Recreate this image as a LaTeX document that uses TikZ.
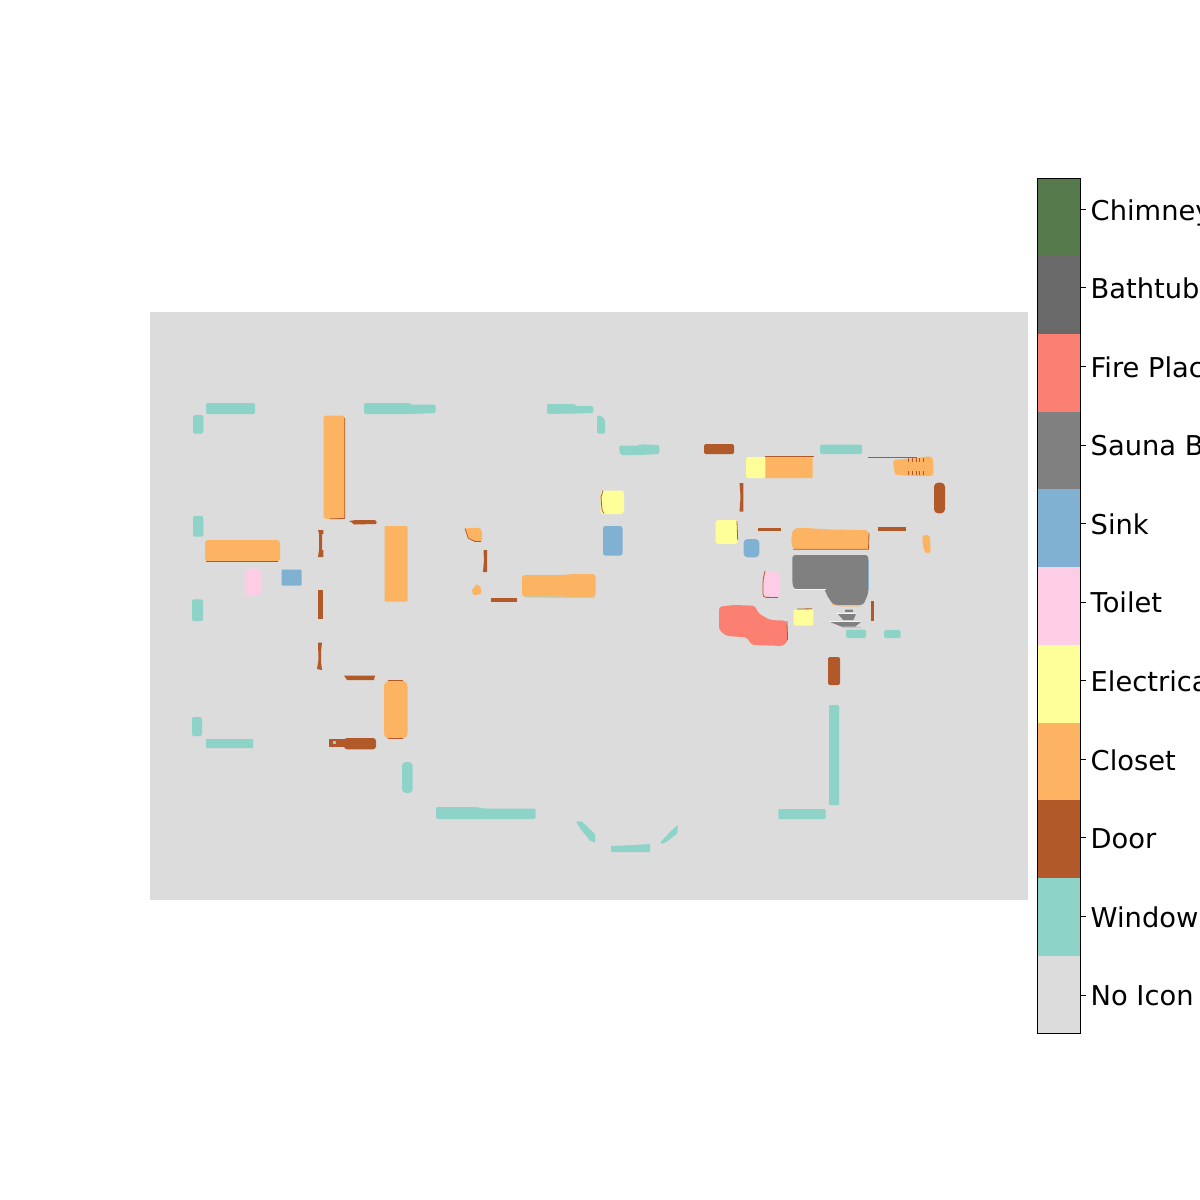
\documentclass[tikz,border=0pt]{standalone}
\usepackage{fontspec}
\setmainfont{DejaVu Sans}
\definecolor{cnone}{HTML}{DCDCDC}
\definecolor{cwin}{HTML}{8DD3C7}
\definecolor{cdoor}{HTML}{B15928}
\definecolor{ccloset}{HTML}{FDB462}
\definecolor{celec}{HTML}{FFFF99}
\definecolor{ctoilet}{HTML}{FCCDE5}
\definecolor{csink}{HTML}{80B1D3}
\definecolor{csauna}{HTML}{808080}
\definecolor{cfire}{HTML}{FB8072}
\definecolor{cbath}{HTML}{696969}
\definecolor{cchim}{HTML}{577A4D}
\tikzset{
  win/.style={fill=cwin,rounded corners=2pt},
  door/.style={fill=cdoor},
  closet/.style={fill=ccloset,rounded corners=3pt},
  elec/.style={fill=celec,rounded corners=3pt},
  toilet/.style={fill=ctoilet,rounded corners=5pt},
  sink/.style={fill=csink,rounded corners=2.5pt},
  sauna/.style={fill=csauna,rounded corners=3pt},
  fireplace/.style={fill=cfire,rounded corners=3pt},
  edgedoor/.style={draw=cdoor,line width=0.8pt},
  edgewin/.style={draw=cwin,line width=0.8pt},
  edgelight/.style={draw=celec,line width=0.8pt},
  edgecloset/.style={draw=ccloset,line width=0.8pt},
  ticklabel/.style={anchor=base west,inner sep=0pt,font=\fontsize{27.3}{30}\selectfont}
}
\begin{document}
\begin{tikzpicture}[x=1pt,y=-1pt]
\useasboundingbox (0,0) rectangle (1200,1200);
\clip (0,0) rectangle (1200,1200);
\fill[white] (0,0) rectangle (1200,1200);
\fill[cnone] (150,312) rectangle (1028,900);
% windows
\fill[win] (206,403) rectangle (255,414);
\fill[win] (193,415) rectangle (203.3,433.7);
\fill[win] (364,403) -- (410,403) -- (410,404.5) -- (435.7,404.5) -- (435.7,413) -- (410,414) -- (364,414) -- cycle;
\fill[win] (547,404) -- (575,404) -- (575,406) -- (593.3,406) -- (593.3,413) -- (575,413.5) -- (547,414) -- cycle;
\fill[win] (597,415.3) -- (603,416.5) -- (605,420) -- (605,433.7) -- (597,433.7) -- cycle;
\fill[win] (619,445.5) -- (640,445.5) -- (640,444.3) -- (659.3,445) -- (659.3,454) -- (640,455) -- (620,455) -- cycle;
\fill[win] (820,444.5) rectangle (862,454);
\fill[win] (193,516) rectangle (203.3,536.7);
\fill[win] (192,599.3) rectangle (203,621);
\fill[win] (192,717) rectangle (202,736);
\fill[win,rounded corners=0.5pt] (206,739) rectangle (253,748);
\fill[win,rounded corners=4pt] (402,762) rectangle (412.7,793);
\fill[win] (436,807) -- (476,807) -- (484,808.5) -- (535.7,808.5) -- (535.7,819) -- (436,819) -- cycle;
\fill[win,rounded corners=1pt] (829,705) rectangle (839,805);
\fill[win,rounded corners=1pt] (778.3,809) rectangle (825.7,819);
\fill[win,rounded corners=1pt] (576,821.3) -- (581.7,821.3) -- (595,834) -- (595,842.7) -- (590,840.7) -- (580,828.3) -- cycle;
\fill[win,rounded corners=0.5pt] (611,846) -- (635,845) -- (650,844) -- (650,852) -- (611,852) -- cycle;
\fill[win,rounded corners=1pt] (660,842.7) -- (672,830) -- (678,825) -- (677.3,833.3) -- (666.7,841.7) -- (661.7,844) -- cycle;
\fill[win] (846,629.5) rectangle (866,638);
\fill[win] (884,630) rectangle (900.7,638);
% doors
\fill[door,rounded corners=1.5pt] (704,444) rectangle (734,454);
\fill[door] (349,521) -- (356,520) -- (375,520) -- (376.7,522) -- (376,524) -- (354,524.5) -- (352,522.5) -- cycle;
\fill[door] (318,530) -- (323.3,530) -- (323.3,534) -- (322,534) -- (322,550) -- (323.3,550) -- (323.3,557) -- (318,557) -- (319,550) -- (319,534) -- cycle;
\fill[door] (318,590) rectangle (322.5,619);
\fill[door] (318,642.7) -- (322,642.7) -- (321,652) -- (321,662) -- (322,670) -- (317,669) -- (318.5,660) -- cycle;
\fill[door] (344,675.5) -- (375,675.5) -- (374,680) -- (347,680) -- cycle;
\fill[door] (329,739) rectangle (346,746.5);
\fill[cwin] (333,740.5) rectangle (336,743.5);
\fill[door,rounded corners=3pt] (344,738) rectangle (376,749.3);
\fill[door] (483.5,550) -- (487,550) -- (487,572) -- (483,572) -- (484,560) -- cycle;
\fill[door] (490.5,598.2) rectangle (516.5,602.2);
\fill[door] (739.5,483) -- (743.3,483) -- (743.3,511.7) -- (739.5,511.7) -- (740.5,497) -- cycle;
\fill[door] (757.7,528) rectangle (781,531.3);
\fill[door] (877.7,527.3) rectangle (906,531);
\fill[door,rounded corners=4pt] (934,482.7) rectangle (945,513.3);
\fill[door] (870.5,601) rectangle (874.3,621);
\fill[door,rounded corners=2pt] (828,657) rectangle (840,685);
% closets
\fill[closet] (323.5,415.5) rectangle (345,519);
\draw[edgedoor] (344.8,418) -- (344.8,518.5) -- (330,518.8);
\fill[closet] (205,540) rectangle (280,561.5);
\draw[edgedoor] (206,561.4) -- (278,561.4);
\fill[closet,rounded corners=1pt] (384.5,526) rectangle (407.5,601.5);
\fill[closet,rounded corners=6pt] (384,680.5) rectangle (407.5,739);
\draw[edgedoor] (388,680.5) -- (403,680.5);
\draw[edgedoor] (388,738.7) -- (403,738.7);
\fill[closet,rounded corners=1.5pt] (465,528.3) -- (480,527.7) -- (482,531.7) -- (482,541.7) -- (475,541.7) -- (468.3,538.3) -- cycle;
\draw[edgedoor] (465,528.5) -- (468.3,538.3) -- (475,541.5) -- (481,541.5);
\fill[closet,rounded corners=1pt] (472,590) -- (476.7,584) -- (481,587.3) -- (481,594) -- (473.3,595.3) -- cycle;
\fill[closet] (522,575) -- (560,575) -- (575,574) -- (595.7,574) -- (595.7,597) -- (560,596.7) -- (522,596.7) -- cycle;
\draw[edgewin] (525,597) -- (595,597.3);
\fill[closet,rounded corners=0.5pt] (765,457) rectangle (812.7,478);
\draw[edgedoor] (765,456.8) -- (813.5,456.8);
\fill[closet] (892.7,460) -- (917,458) -- (931,456) -- (933.3,460) -- (933.3,476) -- (917,476) -- (895,475) -- cycle;
\foreach \px in {908,912,916,919,923}{\draw[edgedoor] (\px,458) -- (\px,462);\draw[edgedoor] (\px,471) -- (\px,475);}
\fill[closet] (793,529) -- (800,527.7) -- (830,529.5) -- (860,530) -- (868,530) -- (869,535) -- (868.5,549.3) -- (793,549.3) -- (791,540) -- cycle;
\draw[edgedoor] (793,549.3) -- (868.5,549.3) -- (869,533);
\fill[closet] (922,535.3) -- (930,535) -- (930.7,553.3) -- (925,553.3) -- (923,545) -- cycle;
% electrical
\fill[elec] (600.5,490.5) rectangle (624,514);
\draw[edgedoor] (603,490.5) -- (601,497) -- (602,510) -- (604,513.5);
\fill[elec,rounded corners=1.5pt] (746,457) rectangle (765.3,478);
\fill[elec] (715.5,520) rectangle (738,544);
\draw[edgedoor] (737,521) -- (737.7,540);
\fill[elec,rounded corners=1.5pt] (793.5,609.5) rectangle (813.3,625.7);
\draw[edgedoor] (797,609) -- (812,608.8);
% toilets
\fill[toilet] (244.5,568.5) rectangle (261.5,595.7);
\fill[toilet] (762.7,571) rectangle (780,597.7);
\draw[edgedoor,rounded corners=3pt] (765,571) -- (763,580) -- (763,597.3) -- (778,597.5);
% sinks
\fill[sink,rounded corners=1pt] (281.5,569.5) rectangle (301.5,585.7);
\fill[sink] (603,526) rectangle (622.5,555.5);
\fill[sink,rounded corners=4pt] (743.5,539) rectangle (759.3,557.3);
% sauna
\fill[sauna] (792.3,555) -- (868.3,555) -- (868.3,593.3) -- (863.3,605) -- (833.3,605) -- (825.7,593.3) -- (825.7,589.3) -- (794,589.3) -- (792.3,583) -- cycle;
\draw[edgelight] (794,589.6) -- (825.5,589.6);
\draw[draw=csink,line width=0.7pt] (868.6,560) -- (868.6,590);
\draw[edgecloset] (832,604.5) -- (842,606) -- (860,606);
\fill[csauna] (845,609.3) rectangle (853.3,611.7);
\draw[edgecloset] (845,609) -- (853.3,609);
\fill[csauna] (838,614) -- (856,614) -- (853.3,620) -- (843.3,620) -- cycle;
\fill[csauna] (830,622) -- (861,622) -- (855,626.7) -- (841.7,626.7) -- cycle;
\draw[edgelight] (836,613.2) -- (856,613.2);
\draw[edgelight] (829.3,621.4) -- (861,621.4);
\draw[edgecloset] (842,627) -- (861,627);
% fire place
\fill[fireplace] (719,606.7) -- (733.3,605) -- (755,605.7) -- (758.3,613.3) -- (770,620) -- (786.7,620.7) -- (788.3,640) -- (783.3,646) -- (751.7,645) -- (746.7,637.3) -- (726.7,636) -- (719,630) -- cycle;
\draw[edgedoor] (786.9,621) -- (787.6,640);
% thin line
\draw[draw=cdoor,line width=0.7pt] (868,457.3) -- (917,457.3);
% colour bar
\foreach \i/\c in {0/cchim,1/cbath,2/cfire,3/csauna,4/csink,5/ctoilet,6/celec,7/ccloset,8/cdoor,9/cwin,10/cnone}{
  \fill[\c] (1037.5,{178.5+77.727*\i}) rectangle (1080.5,{178.5+77.727*(\i+1)});
  \draw[black,line width=0.8pt] (1080.5,{209.3+78.57*\i}) -- (1085.5,{209.3+78.57*\i});
}
\draw[black,line width=1.1pt] (1037.5,178.5) rectangle (1080.5,1033.5);
\node[ticklabel] (l0) at (1090.5,{220+78.57*0}) {Chimney};
\node[ticklabel] (l1) at (1090.5,{220+78.57*1}) {Bathtub};
\node[ticklabel] (l2) at (1090.5,{220+78.57*2}) {Fire Place};
\node[ticklabel] (l3) at (1090.5,{220+78.57*3}) {Sauna Bench};
\node[ticklabel] (l4) at (1090.5,{220+78.57*4}) {Sink};
\node[ticklabel] (l5) at (1090.5,{220+78.57*5}) {Toilet};
\node[ticklabel] (l6) at (1090.5,{220+78.57*6}) {Electrical};
\node[ticklabel] (l7) at (1090.5,{220+78.57*7}) {Closet};
\node[ticklabel] (l8) at (1090.5,{220+78.57*8}) {Door};
\node[ticklabel] (l9) at (1090.5,{220+78.57*9}) {Window};
\node[ticklabel] (l10) at (1090.5,{220+78.57*10}) {No Icon};
\end{tikzpicture}
\end{document}
